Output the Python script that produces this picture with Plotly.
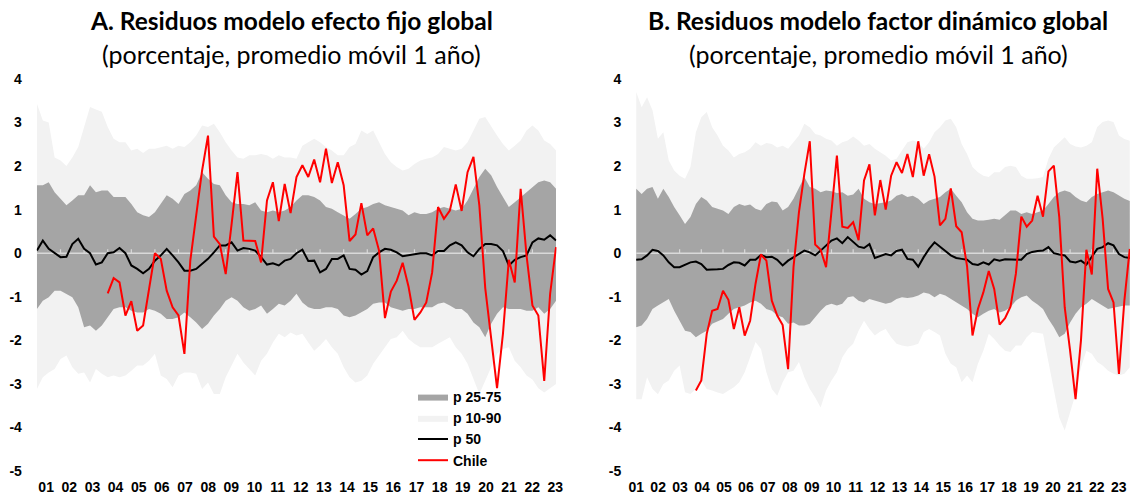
import plotly.graph_objects as go

# ---------------- data (quarterly, 2001Q1 onwards) ----------------
year_labels = ["01", "02", "03", "04", "05", "06", "07", "08", "09", "10", "11", "12",
               "13", "14", "15", "16", "17", "18", "19", "20", "21", "22", "23"]

# Panel A: fixed-effect model residuals
a_p90 = [3.43, 3.05, 3.0, 2.2, 2.13, 2.0, 2.2, 2.44, 2.9, 3.36, 3.3, 3.25, 2.9, 2.63, 2.55, 2.55,
         2.36, 2.4, 2.3, 2.4, 2.4, 2.44, 2.47, 2.4, 2.47, 2.44, 2.55, 2.7, 2.93, 2.9, 2.97, 2.78,
         2.55, 2.36, 2.2, 2.17, 2.25, 2.25, 2.28, 2.25, 2.17, 2.25, 2.2, 2.2, 2.17,
         2.47, 2.55, 2.63, 2.55, 2.44, 2.36, 2.25, 2.25, 2.44, 2.51, 2.82, 2.74, 2.82, 2.55, 2.28,
         2.09, 1.98, 1.9, 1.94, 2.05, 2.13, 2.17, 2.2, 2.28, 2.44, 2.4, 2.36, 2.4, 2.55, 2.82,
         3.09, 3.13, 2.9, 2.7, 2.51, 2.36, 2.47, 2.59, 2.82, 2.93, 2.82, 2.59, 2.51, 2.36]
a_p75 = [1.56, 1.56, 1.63, 1.4, 1.25, 1.1, 1.21, 1.33, 1.33, 1.56, 1.4, 1.44, 1.44, 1.29, 1.29, 1.29,
         1.13, 0.94, 0.87, 0.83, 0.94, 1.13, 1.33, 1.25, 1.13, 1.36, 1.44, 1.56, 1.86, 1.71, 1.59,
         1.56, 1.33, 1.17, 1.13, 1.13, 1.1, 1.17, 0.98, 0.94, 0.98, 0.94, 0.98, 1.06, 1.21,
         1.33, 1.33, 1.29, 1.21, 1.06, 1.02, 0.94, 0.87, 0.79, 0.9, 1.02, 1.06, 1.13, 1.17, 1.1,
         1.06, 1.02, 0.98, 0.87, 0.94, 0.9, 0.9, 0.94, 1.02, 1.06, 1.02, 0.98, 1.02, 1.21, 1.48,
         1.75, 1.94, 1.79, 1.52, 1.29, 1.06, 1.17, 1.29, 1.4, 1.52, 1.63, 1.67, 1.63, 1.48]
a_p50 = [0.06, 0.29, 0.1, 0.0, -0.09, -0.08, 0.21, 0.33, 0.1, 0.0, -0.26, -0.21, 0.0, 0.02, 0.12,
         0.0, -0.28, -0.36, -0.46, -0.36, -0.17, -0.05, 0.1, -0.05, -0.21, -0.4, -0.4, -0.36, -0.25,
         -0.13, 0.02, 0.18, 0.18, 0.25, 0.06, 0.12, 0.1, 0.06, -0.09, -0.26, -0.23, -0.28, -0.17,
         -0.13, 0.0,
         0.08, -0.18, -0.17, -0.44, -0.36, -0.13, -0.13, -0.05, -0.36, -0.38, -0.49, -0.41, -0.09,
         0.02, 0.1, 0.08, 0.02, -0.07, -0.05, -0.02, 0.0, 0.0, -0.05, 0.05, 0.05, 0.18, 0.25, 0.18,
         0.02, -0.07, 0.1, 0.21, 0.21, 0.18, 0.05, -0.28, -0.15, -0.09, -0.05, 0.25, 0.34, 0.31,
         0.41, 0.29]
a_p25 = [-1.28, -1.09, -1.01, -0.86, -0.86, -0.93, -1.01, -1.24, -1.7, -1.66, -1.78, -1.66, -1.47,
         -1.28, -1.24, -1.24, -1.32, -1.36, -1.36, -1.28, -1.32, -1.39, -1.51, -1.51, -1.47, -1.36,
         -1.47, -1.59, -1.74, -1.62, -1.43, -1.28, -1.09, -1.01, -1.09, -1.24, -1.32, -1.28, -1.2,
         -1.39, -1.28, -1.16, -1.2, -1.09, -0.93,
         -1.13, -1.24, -1.28, -1.28, -1.24, -1.24, -1.28, -1.43, -1.47, -1.43, -1.36, -1.28, -1.16,
         -1.13, -1.13, -1.24, -1.28, -1.32, -1.28, -1.28, -1.24, -1.24, -1.24, -1.16, -1.13, -1.2,
         -1.28, -1.28, -1.39, -1.59, -1.7, -1.93, -1.62, -1.39, -1.24, -1.28, -1.28, -1.28, -1.32,
         -1.32, -1.24, -1.39, -1.28, -1.09]
a_p10 = [-3.12, -2.85, -2.74, -2.66, -2.43, -2.35, -2.62, -2.77, -2.74, -2.97, -2.66, -2.77, -2.85,
         -2.81, -2.85, -2.81, -2.7, -2.58, -2.58, -2.47, -2.31, -2.81, -2.89, -3.08, -2.81, -2.74,
         -2.74, -2.77, -3.12, -2.97, -3.23, -3.23, -2.85, -2.58, -2.31, -2.51, -2.66, -2.81, -2.47,
         -2.31, -2.05, -1.85, -1.93, -1.82, -1.89,
         -1.85, -2.05, -2.24, -2.12, -1.97, -2.16, -2.31, -2.62, -2.85, -2.97, -2.93, -2.81, -2.54,
         -2.35, -2.16, -1.97, -1.93, -1.78, -1.97, -2.08, -2.16, -2.16, -2.16, -2.08, -2.01, -1.93,
         -2.16, -2.31, -2.54, -2.89, -3.23, -2.93, -2.62, -2.31, -2.2, -2.16, -2.47, -2.62, -2.81,
         -2.9, -3.1, -3.2, -3.1, -3.0]
a_chile = [None] * 12 + [
    -0.92, -0.57, -0.67, -1.43, -1.1, -1.78, -1.66, -0.78, 0.0, -0.13, -0.86, -1.24, -1.43, -2.31,
    -0.17, 0.87, 1.9, 2.7, 0.38, 0.21, -0.48, 0.67, 1.86, 0.29, 0.29, 0.28, -0.21, 1.21, 1.63, 0.74,
    1.59, 0.92, 1.75, 2.02, 1.75, 2.15, 1.63, 2.4, 1.61, 2.09, 1.56, 0.28, 0.43, 1.15, 0.41, 0.57,
    0.06, -1.49, -0.88, -0.63, -0.22, -0.77, -1.53, -1.36, -1.13, -0.44, 1.06, 0.79, 0.98, 1.58,
    0.97, 1.86, 2.21, 1.1, -0.8, -2.0, -3.1, -1.85, -0.15, -0.67, 1.48, -0.05, -1.2, -1.43, -2.93,
    -0.93, 0.14]

# Panel B: global dynamic factor model residuals
b_p90 = [3.7, 3.35, 3.58, 3.28, 2.63, 2.78, 2.13, 1.9, 1.78, 1.71, 1.98, 2.78, 3.12, 3.24, 2.89,
         2.7, 2.47, 2.36, 2.2, 2.28, 2.32, 2.4, 2.55, 2.47, 2.53, 2.51, 2.43, 2.47, 2.4, 2.55, 2.7,
         2.97, 2.89, 2.74, 2.7, 2.63, 2.59, 2.47, 2.55, 2.59, 2.68, 2.59, 2.47, 2.51, 2.4, 2.32,
         2.24, 2.13, 2.17, 2.36, 2.55, 2.59, 2.55, 2.4, 2.55, 2.78, 2.89, 3.05, 3.09, 2.89, 2.51,
         2.28, 1.98, 1.86, 1.78, 1.75, 1.86, 1.86, 1.98, 2.01, 1.98, 1.78, 1.71, 1.71, 1.72, 1.75,
         2.17, 2.43, 2.55, 2.66, 2.51, 2.45, 2.43, 2.47, 2.55, 2.9, 3.01, 3.05, 3.01, 2.7, 2.62, 2.58]
b_p75 = [1.48, 1.36, 1.48, 1.52, 1.25, 1.48, 1.29, 1.06, 0.87, 0.67, 0.83, 1.13, 1.29, 1.21, 1.06,
         1.02, 0.98, 0.9, 1.06, 1.13, 1.09, 1.12, 1.02, 0.98, 1.13, 1.19, 1.17, 0.98, 1.06, 1.25,
         1.52, 1.75, 1.52, 1.48, 1.4, 1.44, 1.42, 1.38, 1.4, 1.32, 1.35, 1.48, 1.25, 1.17, 1.13, 1.15,
         1.17, 1.21, 1.32, 1.36, 1.29, 1.32, 1.25, 1.13, 1.21, 1.25, 1.29, 1.4, 1.48, 1.32, 1.17,
         0.94, 0.79, 0.75, 0.75, 0.77, 0.79, 0.77, 0.87, 0.98, 0.98, 0.9, 0.94, 0.9, 0.94, 0.98,
         1.13, 1.29, 1.4, 1.44, 1.4, 1.29, 1.21, 1.17, 1.29, 1.36, 1.4, 1.44, 1.4, 1.32, 1.25, 1.2]
b_p50 = [-0.15, -0.14, -0.05, 0.08, 0.05, -0.05, -0.21, -0.32, -0.32, -0.26, -0.21, -0.19, -0.25,
         -0.38, -0.38, -0.37, -0.36, -0.27, -0.21, -0.22, -0.28, -0.15, -0.15, -0.04, -0.09, -0.08,
         -0.15, -0.28, -0.17, -0.09, -0.02, 0.06, 0.02, -0.05, 0.06, 0.18, 0.29, 0.34, 0.23, 0.37,
         0.27, 0.15, 0.12, 0.21, -0.11, -0.06, -0.02, -0.05, 0.05, 0.08, -0.13, -0.15, -0.31, -0.09,
         0.1, 0.25, 0.14, 0.05, -0.05, -0.11, -0.13, -0.15, -0.25, -0.27, -0.21, -0.26, -0.14, -0.17,
         -0.14, -0.14, -0.14, -0.15, -0.02, 0.03, 0.05, 0.06, 0.14, 0.0, -0.03, -0.05, -0.19, -0.21,
         -0.17, -0.26, -0.08, 0.1, 0.14, 0.23, 0.18, -0.02, -0.09, -0.11]
b_p25 = [-1.7, -1.66, -1.51, -1.28, -1.2, -1.13, -1.05, -1.32, -1.55, -1.78, -1.81, -1.93, -1.85,
         -1.78, -1.62, -1.56, -1.51, -1.39, -1.28, -1.24, -1.2, -1.13, -1.09, -1.16, -1.28, -1.32,
         -1.43, -1.47, -1.62, -1.59, -1.66, -1.66, -1.62, -1.47, -1.32, -1.2, -1.16, -1.2, -1.16,
         -1.01, -0.99, -1.09, -1.13, -1.05, -1.09, -1.12, -1.16, -1.13, -1.05, -1.01, -1.03, -1.01,
         -0.97, -0.9, -0.93, -1.01, -0.93, -0.97, -1.05, -1.13, -1.2, -1.28, -1.39, -1.47, -1.39,
         -1.32, -1.28, -1.36, -1.32, -1.24, -1.09, -1.01, -0.97, -1.09, -1.18, -1.28, -1.51, -1.7,
         -1.93, -1.85, -1.59, -1.39, -1.24, -1.16, -1.05, -1.13, -1.2, -1.28, -1.25, -1.22, -1.2, -1.2]
b_p10 = [-3.35, -3.35, -2.85, -3.12, -3.24, -3.0, -2.92, -2.7, -2.58, -3.19, -3.23, -3.12, -2.92,
         -3.12, -3.15, -3.2, -3.23, -3.15, -3.08, -2.96, -2.73, -2.39, -2.04, -2.2, -2.73, -3.12,
         -3.27, -2.96, -2.73, -2.7, -2.5, -2.85, -3.12, -3.31, -3.54, -3.15, -2.92, -2.73, -2.39,
         -2.2, -2.08, -1.78, -1.55, -1.74, -1.89, -1.8, -1.74, -1.93, -2.08, -2.12, -2.14, -2.12,
         -2.08, -1.81, -1.74, -1.81, -1.89, -2.31, -2.54, -2.62, -2.96, -2.81, -2.96, -2.54, -2.24,
         -1.85, -1.97, -2.12, -2.24, -2.27, -2.12, -2.12, -1.93, -1.81, -1.83, -1.85, -2.5, -3.15,
         -3.77, -4.07, -3.65, -3.23, -2.62, -2.24, -2.31, -2.5, -2.58, -2.7, -2.77, -2.81, -2.77, -2.62]
b_chile = [None] * 11 + [
    -3.15, -2.92, -1.85, -1.32, -1.28, -0.86, -1.07, -1.74, -1.24, -1.89, -1.55, -0.7, -0.03, -0.17,
    -1.09, -1.43, -1.65, -2.66, -0.32, 0.94, 1.82, 2.57, 0.2, 0.08, -0.32, 0.98, 2.24, 0.61, 0.58,
    0.71, 0.3,
    1.67, 2.04, 0.87, 1.68, 1.0, 1.78, 2.09, 1.84, 2.28, 1.75, 2.57, 1.78, 2.27, 1.76, 0.64, 0.79,
    1.49, 0.62, 0.48, -0.3, -1.89, -1.28, -0.9, -0.41, -0.82, -1.64, -1.49, -1.23, -0.47, 0.84,
    0.61, 0.75, 1.32, 0.84, 1.88, 2.01, 0.83, -1.24, -2.24, -3.35, -2.0, 0.08, -0.49, 1.94, 0.79,
    -0.82, -1.13, -2.77, -1.09, 0.1]

# ---------------- styling ----------------
W, H = 1130, 499
DARK = "#a5a5a5"
LIGHT = "#f2f2f2"
ZERO = "#d9d9d9"
TICKFONT = dict(family="Liberation Sans, Arial, sans-serif", size=14, color="black", weight="bold")


def quarters(n):
    return [2001 + i / 4 for i in range(n)]


fig = go.Figure()


def add_panel(t, p10, p25, p50, p75, p90, chile, xr, yr, show):
    fig.add_trace(go.Scatter(x=t, y=p10, mode="lines", line=dict(width=0), showlegend=False,
                             hoverinfo="skip", xaxis=xr, yaxis=yr))
    fig.add_trace(go.Scatter(x=t, y=p90, mode="lines", line=dict(width=0), fill="tonexty",
                             fillcolor=LIGHT, name="p 10-90", showlegend=show, legendrank=2,
                             xaxis=xr, yaxis=yr))
    fig.add_trace(go.Scatter(x=t, y=p25, mode="lines", line=dict(width=0), showlegend=False,
                             hoverinfo="skip", xaxis=xr, yaxis=yr))
    fig.add_trace(go.Scatter(x=t, y=p75, mode="lines", line=dict(width=0), fill="tonexty",
                             fillcolor=DARK, name="p 25-75", showlegend=show, legendrank=1,
                             xaxis=xr, yaxis=yr))
    # zero line with small year ticks
    fig.add_trace(go.Scatter(x=[t[0], t[-1]], y=[0, 0], mode="lines",
                             line=dict(color=ZERO, width=1.5), showlegend=False,
                             hoverinfo="skip", xaxis=xr, yaxis=yr))
    tx, ty = [], []
    for y in range(int(t[0]) + 1, int(t[-1]) + 1):
        tx += [y, y, None]
        ty += [0, 0.09, None]
    fig.add_trace(go.Scatter(x=tx, y=ty, mode="lines", line=dict(color=ZERO, width=1.2),
                             showlegend=False, hoverinfo="skip", xaxis=xr, yaxis=yr))
    fig.add_trace(go.Scatter(x=t, y=p50, mode="lines", line=dict(color="black", width=2),
                             name="p 50", showlegend=show, legendrank=3, xaxis=xr, yaxis=yr))
    fig.add_trace(go.Scatter(x=t, y=chile, mode="lines", line=dict(color="#ff0000", width=2),
                             name="Chile", showlegend=show, legendrank=4, xaxis=xr, yaxis=yr))


ta = quarters(len(a_p50))
tb = quarters(len(b_p50))
add_panel(ta, a_p10, a_p25, a_p50, a_p75, a_p90, a_chile, "x", "y", True)
add_panel(tb, b_p10, b_p25, b_p50, b_p75, b_p90, b_chile, "x2", "y2", False)

n_lab = len(year_labels)
a_tickvals = [2001.39 + k * 0.981 for k in range(n_lab)]
b_tickvals = [2001.0 + k * 1.011 for k in range(n_lab)]

yticks = list(range(-5, 5))
ydom = [1 - 471 / H, 1 - 79 / H]

common_x = dict(showgrid=False, zeroline=False, showline=False, ticks="outside", ticklen=3,
                tickcolor="rgba(0,0,0,0)", tickfont=TICKFONT, ticktext=year_labels,
                tickangle=0, fixedrange=True, automargin=False)
common_y = dict(showgrid=False, zeroline=False, showline=False, ticks="outside", ticklen=11,
                tickcolor="rgba(0,0,0,0)", tickfont=TICKFONT, tickvals=yticks,
                ticktext=[str(v) for v in yticks], range=[-5, 4], domain=ydom, fixedrange=True,
                automargin=False)

fig.update_layout(
    width=W, height=H,
    margin=dict(l=0, r=0, t=0, b=0, autoexpand=False),
    paper_bgcolor="white", plot_bgcolor="white",
    xaxis=dict(domain=[36.7 / W, 556.5 / W], range=[ta[0] - 0.01, ta[-1] + 0.02],
               tickvals=a_tickvals, anchor="y", **common_x),
    yaxis=dict(anchor="x", **common_y),
    xaxis2=dict(domain=[636 / W, 1.0], range=[tb[0] - 0.01, tb[-1] + 0.01],
                tickvals=b_tickvals, anchor="y2", **common_x),
    yaxis2=dict(anchor="x2", **common_y),
    legend=dict(x=413 / W, xanchor="left", y=1 - 381 / H, yanchor="top",
                bgcolor="rgba(0,0,0,0)", traceorder="normal", tracegroupgap=0,
                font=dict(family="Liberation Sans, Arial, sans-serif", size=14, color="black",
                          weight="bold"),
                itemwidth=30),
    showlegend=True,
)

TFONT = "Lato, Carlito, Calibri, sans-serif"
titles = [
    (291 / W, "<b>A. Residuos modelo efecto fijo global</b>"),
    (878 / W, "<b>B. Residuos modelo factor dinámico global</b>"),
]
for xc, txt in titles:
    fig.add_annotation(x=xc, y=1 - 20 / H, xref="paper", yref="paper", text=txt,
                       showarrow=False, xanchor="center", yanchor="middle",
                       font=dict(family=TFONT, size=24.5, color="black"))
    fig.add_annotation(x=xc, y=1 - 54 / H, xref="paper", yref="paper",
                       text="(porcentaje, promedio móvil 1 año)",
                       showarrow=False, xanchor="center", yanchor="middle",
                       font=dict(family=TFONT, size=25, color="black"))

fig.write_html("out.html")
